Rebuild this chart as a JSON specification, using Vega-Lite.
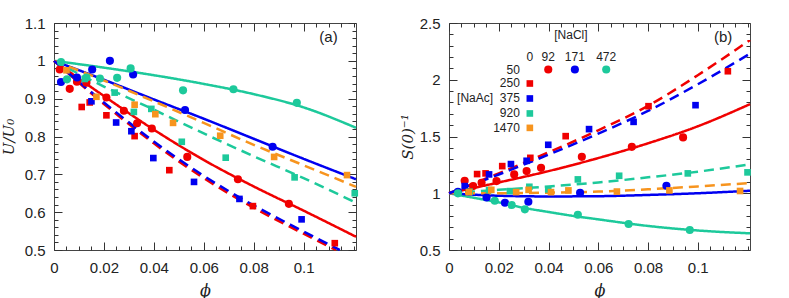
{
  "$schema": "https://vega.github.io/schema/vega-lite/v6.json",
  "autosize": {"type": "none"},
  "padding": {"left": 54, "top": 23, "right": 735, "bottom": 275},
  "config": {
    "view": {"stroke": "#444", "strokeWidth": 1},
    "axis": {"grid": false, "domain": false, "tickColor": "#333", "tickWidth": 1}
  },
  "datasets": {
    "d": [
      {"p":"a","k":"pt","s":"NaCl","c":"92","x":0.0023,"y":0.977},
      {"p":"a","k":"pt","s":"NaCl","c":"92","x":0.0063,"y":0.926},
      {"p":"a","k":"pt","s":"NaCl","c":"92","x":0.0092,"y":0.945},
      {"p":"a","k":"pt","s":"NaCl","c":"92","x":0.013,"y":0.942},
      {"p":"a","k":"pt","s":"NaCl","c":"92","x":0.021,"y":0.903},
      {"p":"a","k":"pt","s":"NaCl","c":"92","x":0.028,"y":0.868},
      {"p":"a","k":"pt","s":"NaCl","c":"92","x":0.0333,"y":0.835},
      {"p":"a","k":"pt","s":"NaCl","c":"92","x":0.0392,"y":0.821},
      {"p":"a","k":"pt","s":"NaCl","c":"92","x":0.0534,"y":0.746},
      {"p":"a","k":"pt","s":"NaCl","c":"92","x":0.0737,"y":0.687},
      {"p":"a","k":"pt","s":"NaCl","c":"92","x":0.0941,"y":0.622},
      {"p":"a","k":"pt","s":"NaCl","c":"171","x":0.0028,"y":0.944},
      {"p":"a","k":"pt","s":"NaCl","c":"171","x":0.0092,"y":0.956},
      {"p":"a","k":"pt","s":"NaCl","c":"171","x":0.0153,"y":0.977},
      {"p":"a","k":"pt","s":"NaCl","c":"171","x":0.0224,"y":1.0},
      {"p":"a","k":"pt","s":"NaCl","c":"171","x":0.0317,"y":0.964},
      {"p":"a","k":"pt","s":"NaCl","c":"171","x":0.0525,"y":0.87},
      {"p":"a","k":"pt","s":"NaCl","c":"171","x":0.0876,"y":0.773},
      {"p":"a","k":"pt","s":"NaCl","c":"472","x":0.0028,"y":0.997},
      {"p":"a","k":"pt","s":"NaCl","c":"472","x":0.0052,"y":0.951},
      {"p":"a","k":"pt","s":"NaCl","c":"472","x":0.013,"y":0.956},
      {"p":"a","k":"pt","s":"NaCl","c":"472","x":0.0184,"y":0.953},
      {"p":"a","k":"pt","s":"NaCl","c":"472","x":0.0253,"y":0.955},
      {"p":"a","k":"pt","s":"NaCl","c":"472","x":0.0307,"y":0.98},
      {"p":"a","k":"pt","s":"NaCl","c":"472","x":0.0517,"y":0.922},
      {"p":"a","k":"pt","s":"NaCl","c":"472","x":0.0719,"y":0.925},
      {"p":"a","k":"pt","s":"NaCl","c":"472","x":0.0973,"y":0.889},
      {"p":"a","k":"pt","s":"NaAc","c":"250","x":0.0111,"y":0.878},
      {"p":"a","k":"pt","s":"NaAc","c":"250","x":0.0143,"y":0.89},
      {"p":"a","k":"pt","s":"NaAc","c":"250","x":0.021,"y":0.856},
      {"p":"a","k":"pt","s":"NaAc","c":"250","x":0.0323,"y":0.801},
      {"p":"a","k":"pt","s":"NaAc","c":"250","x":0.0462,"y":0.711},
      {"p":"a","k":"pt","s":"NaAc","c":"250","x":0.0797,"y":0.616},
      {"p":"a","k":"pt","s":"NaAc","c":"250","x":0.1125,"y":0.518},
      {"p":"a","k":"pt","s":"NaAc","c":"375","x":0.015,"y":0.893},
      {"p":"a","k":"pt","s":"NaAc","c":"375","x":0.0249,"y":0.837},
      {"p":"a","k":"pt","s":"NaAc","c":"375","x":0.031,"y":0.814},
      {"p":"a","k":"pt","s":"NaAc","c":"375","x":0.0398,"y":0.743},
      {"p":"a","k":"pt","s":"NaAc","c":"375","x":0.0561,"y":0.68},
      {"p":"a","k":"pt","s":"NaAc","c":"375","x":0.0743,"y":0.635},
      {"p":"a","k":"pt","s":"NaAc","c":"375","x":0.0992,"y":0.581},
      {"p":"a","k":"pt","s":"NaAc","c":"920","x":0.0123,"y":0.952},
      {"p":"a","k":"pt","s":"NaAc","c":"920","x":0.0243,"y":0.916},
      {"p":"a","k":"pt","s":"NaAc","c":"920","x":0.032,"y":0.865},
      {"p":"a","k":"pt","s":"NaAc","c":"920","x":0.039,"y":0.873},
      {"p":"a","k":"pt","s":"NaAc","c":"920","x":0.0512,"y":0.786},
      {"p":"a","k":"pt","s":"NaAc","c":"920","x":0.0688,"y":0.744},
      {"p":"a","k":"pt","s":"NaAc","c":"920","x":0.0964,"y":0.692},
      {"p":"a","k":"pt","s":"NaAc","c":"920","x":0.1205,"y":0.65},
      {"p":"a","k":"pt","s":"NaAc","c":"1470","x":0.005,"y":0.975},
      {"p":"a","k":"pt","s":"NaAc","c":"1470","x":0.017,"y":0.905},
      {"p":"a","k":"pt","s":"NaAc","c":"1470","x":0.0323,"y":0.884},
      {"p":"a","k":"pt","s":"NaAc","c":"1470","x":0.0406,"y":0.859},
      {"p":"a","k":"pt","s":"NaAc","c":"1470","x":0.0477,"y":0.836},
      {"p":"a","k":"pt","s":"NaAc","c":"1470","x":0.0666,"y":0.802},
      {"p":"a","k":"pt","s":"NaAc","c":"1470","x":0.0882,"y":0.746},
      {"p":"a","k":"pt","s":"NaAc","c":"1470","x":0.1174,"y":0.698},

      {"p":"b","k":"pt","s":"NaCl","c":"92","x":0.0063,"y":1.11},
      {"p":"b","k":"pt","s":"NaCl","c":"92","x":0.0097,"y":1.063},
      {"p":"b","k":"pt","s":"NaCl","c":"92","x":0.0131,"y":1.092},
      {"p":"b","k":"pt","s":"NaCl","c":"92","x":0.0191,"y":1.107},
      {"p":"b","k":"pt","s":"NaCl","c":"92","x":0.0262,"y":1.166},
      {"p":"b","k":"pt","s":"NaCl","c":"92","x":0.0312,"y":1.195},
      {"p":"b","k":"pt","s":"NaCl","c":"92","x":0.037,"y":1.224},
      {"p":"b","k":"pt","s":"NaCl","c":"92","x":0.0534,"y":1.321},
      {"p":"b","k":"pt","s":"NaCl","c":"92","x":0.0735,"y":1.409},
      {"p":"b","k":"pt","s":"NaCl","c":"92","x":0.0941,"y":1.492},
      {"p":"b","k":"pt","s":"NaCl","c":"171","x":0.0036,"y":1.013},
      {"p":"b","k":"pt","s":"NaCl","c":"171","x":0.0151,"y":0.963},
      {"p":"b","k":"pt","s":"NaCl","c":"171","x":0.0225,"y":0.916},
      {"p":"b","k":"pt","s":"NaCl","c":"171","x":0.0319,"y":0.925},
      {"p":"b","k":"pt","s":"NaCl","c":"171","x":0.0527,"y":1.004},
      {"p":"b","k":"pt","s":"NaCl","c":"171","x":0.0874,"y":1.066},
      {"p":"b","k":"pt","s":"NaCl","c":"472","x":0.0036,"y":0.999},
      {"p":"b","k":"pt","s":"NaCl","c":"472","x":0.0184,"y":0.934},
      {"p":"b","k":"pt","s":"NaCl","c":"472","x":0.0252,"y":0.896},
      {"p":"b","k":"pt","s":"NaCl","c":"472","x":0.0305,"y":0.858},
      {"p":"b","k":"pt","s":"NaCl","c":"472","x":0.0518,"y":0.811},
      {"p":"b","k":"pt","s":"NaCl","c":"472","x":0.0722,"y":0.729},
      {"p":"b","k":"pt","s":"NaCl","c":"472","x":0.0968,"y":0.676},
      {"p":"b","k":"pt","s":"NaAc","c":"250","x":0.0113,"y":1.169},
      {"p":"b","k":"pt","s":"NaAc","c":"250","x":0.0147,"y":1.175},
      {"p":"b","k":"pt","s":"NaAc","c":"250","x":0.0214,"y":1.239},
      {"p":"b","k":"pt","s":"NaAc","c":"250","x":0.0327,"y":1.312},
      {"p":"b","k":"pt","s":"NaAc","c":"250","x":0.0469,"y":1.503},
      {"p":"b","k":"pt","s":"NaAc","c":"250","x":0.0802,"y":1.767},
      {"p":"b","k":"pt","s":"NaAc","c":"250","x":0.1121,"y":2.075},
      {"p":"b","k":"pt","s":"NaAc","c":"375","x":0.0063,"y":1.063},
      {"p":"b","k":"pt","s":"NaAc","c":"375","x":0.0161,"y":1.166},
      {"p":"b","k":"pt","s":"NaAc","c":"375","x":0.0249,"y":1.257},
      {"p":"b","k":"pt","s":"NaAc","c":"375","x":0.0312,"y":1.286},
      {"p":"b","k":"pt","s":"NaAc","c":"375","x":0.0399,"y":1.427},
      {"p":"b","k":"pt","s":"NaAc","c":"375","x":0.0563,"y":1.565},
      {"p":"b","k":"pt","s":"NaAc","c":"375","x":0.0742,"y":1.629},
      {"p":"b","k":"pt","s":"NaAc","c":"375","x":0.0991,"y":1.776},
      {"p":"b","k":"pt","s":"NaAc","c":"920","x":0.0083,"y":1.013},
      {"p":"b","k":"pt","s":"NaAc","c":"920","x":0.0161,"y":1.028},
      {"p":"b","k":"pt","s":"NaAc","c":"920","x":0.0245,"y":1.019},
      {"p":"b","k":"pt","s":"NaAc","c":"920","x":0.0323,"y":1.057},
      {"p":"b","k":"pt","s":"NaAc","c":"920","x":0.0399,"y":1.034},
      {"p":"b","k":"pt","s":"NaAc","c":"920","x":0.0518,"y":1.122},
      {"p":"b","k":"pt","s":"NaAc","c":"920","x":0.0684,"y":1.154},
      {"p":"b","k":"pt","s":"NaAc","c":"920","x":0.096,"y":1.175},
      {"p":"b","k":"pt","s":"NaAc","c":"920","x":0.12,"y":1.184},
      {"p":"b","k":"pt","s":"NaAc","c":"1470","x":0.008,"y":1.01},
      {"p":"b","k":"pt","s":"NaAc","c":"1470","x":0.017,"y":1.03},
      {"p":"b","k":"pt","s":"NaAc","c":"1470","x":0.027,"y":1.01},
      {"p":"b","k":"pt","s":"NaAc","c":"1470","x":0.032,"y":1.03},
      {"p":"b","k":"pt","s":"NaAc","c":"1470","x":0.041,"y":1.01},
      {"p":"b","k":"pt","s":"NaAc","c":"1470","x":0.048,"y":1.025},
      {"p":"b","k":"pt","s":"NaAc","c":"1470","x":0.0675,"y":1.015},
      {"p":"b","k":"pt","s":"NaAc","c":"1470","x":0.0886,"y":1.025},
      {"p":"b","k":"pt","s":"NaAc","c":"1470","x":0.117,"y":1.02},

      {"p":"a","k":"line","s":"NaCl","c":"472","x":0,"y":1},
      {"p":"a","k":"line","s":"NaCl","c":"472","x":0.02,"y":0.982},
      {"p":"a","k":"line","s":"NaCl","c":"472","x":0.04,"y":0.962},
      {"p":"a","k":"line","s":"NaCl","c":"472","x":0.06,"y":0.939},
      {"p":"a","k":"line","s":"NaCl","c":"472","x":0.08,"y":0.912},
      {"p":"a","k":"line","s":"NaCl","c":"472","x":0.1,"y":0.877},
      {"p":"a","k":"line","s":"NaCl","c":"472","x":0.121,"y":0.823},
      {"p":"a","k":"line","s":"NaCl","c":"171","x":0,"y":1},
      {"p":"a","k":"line","s":"NaCl","c":"171","x":0.02,"y":0.95},
      {"p":"a","k":"line","s":"NaCl","c":"171","x":0.04,"y":0.898},
      {"p":"a","k":"line","s":"NaCl","c":"171","x":0.06,"y":0.847},
      {"p":"a","k":"line","s":"NaCl","c":"171","x":0.08,"y":0.794},
      {"p":"a","k":"line","s":"NaCl","c":"171","x":0.1,"y":0.741},
      {"p":"a","k":"line","s":"NaCl","c":"171","x":0.121,"y":0.687},
      {"p":"a","k":"line","s":"NaCl","c":"92","x":0,"y":1},
      {"p":"a","k":"line","s":"NaCl","c":"92","x":0.01,"y":0.953},
      {"p":"a","k":"line","s":"NaCl","c":"92","x":0.02,"y":0.907},
      {"p":"a","k":"line","s":"NaCl","c":"92","x":0.04,"y":0.818},
      {"p":"a","k":"line","s":"NaCl","c":"92","x":0.06,"y":0.738},
      {"p":"a","k":"line","s":"NaCl","c":"92","x":0.08,"y":0.668},
      {"p":"a","k":"line","s":"NaCl","c":"92","x":0.1,"y":0.604},
      {"p":"a","k":"line","s":"NaCl","c":"92","x":0.121,"y":0.535},
      {"p":"a","k":"line","s":"NaAc","c":"920","x":0,"y":1},
      {"p":"a","k":"line","s":"NaAc","c":"920","x":0.02,"y":0.932},
      {"p":"a","k":"line","s":"NaAc","c":"920","x":0.04,"y":0.871},
      {"p":"a","k":"line","s":"NaAc","c":"920","x":0.06,"y":0.808},
      {"p":"a","k":"line","s":"NaAc","c":"920","x":0.08,"y":0.748},
      {"p":"a","k":"line","s":"NaAc","c":"920","x":0.1,"y":0.69},
      {"p":"a","k":"line","s":"NaAc","c":"920","x":0.121,"y":0.625},
      {"p":"a","k":"line","s":"NaAc","c":"1470","x":0,"y":1},
      {"p":"a","k":"line","s":"NaAc","c":"1470","x":0.02,"y":0.948},
      {"p":"a","k":"line","s":"NaAc","c":"1470","x":0.04,"y":0.893},
      {"p":"a","k":"line","s":"NaAc","c":"1470","x":0.06,"y":0.836},
      {"p":"a","k":"line","s":"NaAc","c":"1470","x":0.08,"y":0.778},
      {"p":"a","k":"line","s":"NaAc","c":"1470","x":0.1,"y":0.724},
      {"p":"a","k":"line","s":"NaAc","c":"1470","x":0.121,"y":0.667},
      {"p":"a","k":"line","s":"NaAc","c":"250","x":0,"y":1},
      {"p":"a","k":"line","s":"NaAc","c":"250","x":0.02,"y":0.886},
      {"p":"a","k":"line","s":"NaAc","c":"250","x":0.04,"y":0.782},
      {"p":"a","k":"line","s":"NaAc","c":"250","x":0.06,"y":0.69},
      {"p":"a","k":"line","s":"NaAc","c":"250","x":0.08,"y":0.612},
      {"p":"a","k":"line","s":"NaAc","c":"250","x":0.1,"y":0.543},
      {"p":"a","k":"line","s":"NaAc","c":"250","x":0.113,"y":0.5},
      {"p":"a","k":"line","s":"NaAc","c":"375","x":0,"y":1},
      {"p":"a","k":"line","s":"NaAc","c":"375","x":0.02,"y":0.89},
      {"p":"a","k":"line","s":"NaAc","c":"375","x":0.04,"y":0.787},
      {"p":"a","k":"line","s":"NaAc","c":"375","x":0.06,"y":0.696},
      {"p":"a","k":"line","s":"NaAc","c":"375","x":0.08,"y":0.618},
      {"p":"a","k":"line","s":"NaAc","c":"375","x":0.1,"y":0.549},
      {"p":"a","k":"line","s":"NaAc","c":"375","x":0.1145,"y":0.5},

      {"p":"b","k":"line","s":"NaCl","c":"472","x":0,"y":1},
      {"p":"b","k":"line","s":"NaCl","c":"472","x":0.01,"y":0.96},
      {"p":"b","k":"line","s":"NaCl","c":"472","x":0.02,"y":0.92},
      {"p":"b","k":"line","s":"NaCl","c":"472","x":0.03,"y":0.872},
      {"p":"b","k":"line","s":"NaCl","c":"472","x":0.04,"y":0.835},
      {"p":"b","k":"line","s":"NaCl","c":"472","x":0.05,"y":0.8},
      {"p":"b","k":"line","s":"NaCl","c":"472","x":0.06,"y":0.77},
      {"p":"b","k":"line","s":"NaCl","c":"472","x":0.08,"y":0.712},
      {"p":"b","k":"line","s":"NaCl","c":"472","x":0.1,"y":0.672},
      {"p":"b","k":"line","s":"NaCl","c":"472","x":0.121,"y":0.647},
      {"p":"b","k":"line","s":"NaCl","c":"171","x":0,"y":1},
      {"p":"b","k":"line","s":"NaCl","c":"171","x":0.02,"y":0.978},
      {"p":"b","k":"line","s":"NaCl","c":"171","x":0.04,"y":0.972},
      {"p":"b","k":"line","s":"NaCl","c":"171","x":0.06,"y":0.974},
      {"p":"b","k":"line","s":"NaCl","c":"171","x":0.08,"y":0.985},
      {"p":"b","k":"line","s":"NaCl","c":"171","x":0.1,"y":1.0},
      {"p":"b","k":"line","s":"NaCl","c":"171","x":0.121,"y":1.022},
      {"p":"b","k":"line","s":"NaCl","c":"92","x":0,"y":1},
      {"p":"b","k":"line","s":"NaCl","c":"92","x":0.02,"y":1.095},
      {"p":"b","k":"line","s":"NaCl","c":"92","x":0.04,"y":1.195},
      {"p":"b","k":"line","s":"NaCl","c":"92","x":0.06,"y":1.31},
      {"p":"b","k":"line","s":"NaCl","c":"92","x":0.08,"y":1.44},
      {"p":"b","k":"line","s":"NaCl","c":"92","x":0.1,"y":1.59},
      {"p":"b","k":"line","s":"NaCl","c":"92","x":0.121,"y":1.785},
      {"p":"b","k":"line","s":"NaAc","c":"920","x":0,"y":1},
      {"p":"b","k":"line","s":"NaAc","c":"920","x":0.02,"y":1.03},
      {"p":"b","k":"line","s":"NaAc","c":"920","x":0.04,"y":1.06},
      {"p":"b","k":"line","s":"NaAc","c":"920","x":0.06,"y":1.095},
      {"p":"b","k":"line","s":"NaAc","c":"920","x":0.08,"y":1.14},
      {"p":"b","k":"line","s":"NaAc","c":"920","x":0.1,"y":1.19},
      {"p":"b","k":"line","s":"NaAc","c":"920","x":0.121,"y":1.255},
      {"p":"b","k":"line","s":"NaAc","c":"1470","x":0,"y":1},
      {"p":"b","k":"line","s":"NaAc","c":"1470","x":0.02,"y":1.0},
      {"p":"b","k":"line","s":"NaAc","c":"1470","x":0.04,"y":1.005},
      {"p":"b","k":"line","s":"NaAc","c":"1470","x":0.06,"y":1.015},
      {"p":"b","k":"line","s":"NaAc","c":"1470","x":0.08,"y":1.035},
      {"p":"b","k":"line","s":"NaAc","c":"1470","x":0.1,"y":1.06},
      {"p":"b","k":"line","s":"NaAc","c":"1470","x":0.121,"y":1.09},
      {"p":"b","k":"line","s":"NaAc","c":"250","x":0,"y":1},
      {"p":"b","k":"line","s":"NaAc","c":"250","x":0.02,"y":1.175},
      {"p":"b","k":"line","s":"NaAc","c":"250","x":0.04,"y":1.36},
      {"p":"b","k":"line","s":"NaAc","c":"250","x":0.06,"y":1.555},
      {"p":"b","k":"line","s":"NaAc","c":"250","x":0.08,"y":1.77},
      {"p":"b","k":"line","s":"NaAc","c":"250","x":0.1,"y":2.04},
      {"p":"b","k":"line","s":"NaAc","c":"250","x":0.121,"y":2.35},
      {"p":"b","k":"line","s":"NaAc","c":"375","x":0,"y":1},
      {"p":"b","k":"line","s":"NaAc","c":"375","x":0.02,"y":1.165},
      {"p":"b","k":"line","s":"NaAc","c":"375","x":0.04,"y":1.34},
      {"p":"b","k":"line","s":"NaAc","c":"375","x":0.06,"y":1.525},
      {"p":"b","k":"line","s":"NaAc","c":"375","x":0.08,"y":1.725},
      {"p":"b","k":"line","s":"NaAc","c":"375","x":0.1,"y":1.96},
      {"p":"b","k":"line","s":"NaAc","c":"375","x":0.121,"y":2.23},

      {"p":"b","k":"legpt","s":"NaCl","c":"92","x":0.0399,"y":2.09},
      {"p":"b","k":"legpt","s":"NaCl","c":"171","x":0.0506,"y":2.09},
      {"p":"b","k":"legpt","s":"NaCl","c":"472","x":0.0632,"y":2.09},
      {"p":"b","k":"legpt","s":"NaAc","c":"250","x":0.0325,"y":1.967},
      {"p":"b","k":"legpt","s":"NaAc","c":"375","x":0.0325,"y":1.835},
      {"p":"b","k":"legpt","s":"NaAc","c":"920","x":0.0325,"y":1.703},
      {"p":"b","k":"legpt","s":"NaAc","c":"1470","x":0.0325,"y":1.576},

      {"p":"a","k":"note","t":"(a)","x":0.11,"y":1.063},
      {"p":"b","k":"note","t":"(b)","x":0.1102,"y":2.377},
      {"p":"b","k":"head","t":"[NaCl]","x":0.049,"y":2.392},
      {"p":"b","k":"head","t":"0","x":0.0325,"y":2.201},
      {"p":"b","k":"head","t":"92","x":0.0399,"y":2.201},
      {"p":"b","k":"head","t":"171","x":0.0506,"y":2.201},
      {"p":"b","k":"head","t":"472","x":0.0632,"y":2.201},
      {"p":"b","k":"head","t":"[NaAc]","x":0.0105,"y":1.835},
      {"p":"b","k":"row","t":"50","x":0.0285,"y":2.09},
      {"p":"b","k":"row","t":"250","x":0.0285,"y":1.967},
      {"p":"b","k":"row","t":"375","x":0.0285,"y":1.835},
      {"p":"b","k":"row","t":"920","x":0.0285,"y":1.703},
      {"p":"b","k":"row","t":"1470","x":0.0285,"y":1.576}
    ]
  },
  "hconcat": [
    {
      "width": 302,
      "height": 227,
      "data": {"name": "d"},
      "transform": [{"filter": "datum.p == 'a'"}],
      "resolve": {"axis": {"x": "independent", "y": "independent"}},
      "layer": [
        {
          "transform": [{"filter": "datum.k == 'line'"}],
          "mark": {"type": "line", "strokeWidth": 2.5, "interpolate": "monotone"},
          "encoding": {
            "x": {"field": "x", "type": "quantitative", "scale": {"domain": [0, 0.121], "nice": false, "zero": false},
              "axis": {"orient": "bottom", "values": [0,0.005,0.01,0.015,0.02,0.025,0.03,0.035,0.04,0.045,0.05,0.055,0.06,0.065,0.07,0.075,0.08,0.085,0.09,0.095,0.1,0.105,0.11,0.115,0.12],
                "tickSize": {"condition": {"test": "abs(datum.value*50-round(datum.value*50))<0.01 && datum.value<0.11", "value": -8}, "value": -4},
                "labelExpr": "abs(datum.value*50-round(datum.value*50))<0.01 && datum.value<0.11 ? format(datum.value,'~g') : ''",
                "labelFont": "Liberation Sans", "labelFontSize": 15, "labelColor": "#222", "labelPadding": 18, "labelFlush": false, "labelOverlap": false,
                "title": "ϕ", "titleFont": "DejaVu Serif", "titleFontStyle": "italic", "titleFontWeight": "normal", "titleFontSize": 16, "titleColor": "#222", "titlePadding": 3}},
            "y": {"field": "y", "type": "quantitative", "scale": {"domain": [0.5, 1.1], "nice": false, "zero": false},
              "axis": {"orient": "left", "values": [0.5,0.52,0.54,0.56,0.58,0.6,0.62,0.64,0.66,0.68,0.7,0.72,0.74,0.76,0.78,0.8,0.82,0.84,0.86,0.88,0.9,0.92,0.94,0.96,0.98,1,1.02,1.04,1.06,1.08,1.1],
                "tickSize": {"condition": {"test": "abs(datum.value*10-round(datum.value*10))<0.01", "value": -8}, "value": -4},
                "labelExpr": "abs(datum.value*10-round(datum.value*10))<0.01 ? format(datum.value,'~g') : ''",
                "labelFont": "Liberation Sans", "labelFontSize": 15, "labelColor": "#222", "labelPadding": 17, "labelFlush": false, "labelOverlap": false,
                "title": "U/U₀", "titleFont": "DejaVu Serif", "titleFontStyle": "italic", "titleFontWeight": "normal", "titleFontSize": 15, "titleColor": "#222", "titlePadding": 8}},
            "color": {"field": "c", "type": "nominal", "legend": null, "scale": {"domain": ["92","171","472","250","375","920","1470"], "range": ["#f00000","#0000f0","#1dc99b","#f00000","#0000f0","#1dc99b","#f7941e"]}},
            "strokeDash": {"field": "s", "type": "nominal", "legend": null, "scale": {"domain": ["NaCl","NaAc"], "range": [[1,0],[10,6]]}},
            "detail": {"field": "c"}
          }
        },
        {
          "transform": [{"filter": "datum.k == 'pt'"}],
          "mark": {"type": "point", "filled": true, "opacity": 1, "strokeWidth": 0},
          "encoding": {
            "x": {"field": "x", "type": "quantitative", "scale": {"domain": [0, 0.121], "nice": false, "zero": false},
              "axis": {"orient": "top", "values": [0,0.005,0.01,0.015,0.02,0.025,0.03,0.035,0.04,0.045,0.05,0.055,0.06,0.065,0.07,0.075,0.08,0.085,0.09,0.095,0.1,0.105,0.11,0.115,0.12],
                "tickSize": {"condition": {"test": "abs(datum.value*50-round(datum.value*50))<0.01 && datum.value<0.11", "value": -8}, "value": -4},
                "labels": false, "title": null}},
            "y": {"field": "y", "type": "quantitative", "scale": {"domain": [0.5, 1.1], "nice": false, "zero": false},
              "axis": {"orient": "right", "values": [0.5,0.52,0.54,0.56,0.58,0.6,0.62,0.64,0.66,0.68,0.7,0.72,0.74,0.76,0.78,0.8,0.82,0.84,0.86,0.88,0.9,0.92,0.94,0.96,0.98,1,1.02,1.04,1.06,1.08,1.1],
                "tickSize": {"condition": {"test": "abs(datum.value*10-round(datum.value*10))<0.01", "value": -8}, "value": -4},
                "labels": false, "title": null}},
            "color": {"field": "c", "type": "nominal", "legend": null, "scale": {"domain": ["92","171","472","250","375","920","1470"], "range": ["#f00000","#0000f0","#1dc99b","#f00000","#0000f0","#1dc99b","#f7941e"]}},
            "shape": {"field": "s", "type": "nominal", "legend": null, "scale": {"domain": ["NaCl","NaAc"], "range": ["circle","square"]}},
            "size": {"field": "s", "type": "nominal", "legend": null, "scale": {"domain": ["NaCl","NaAc"], "range": [66, 44]}}
          }
        },
        {
          "transform": [{"filter": "datum.k == 'note'"}],
          "mark": {"type": "text", "font": "Liberation Sans", "fontSize": 15, "color": "#222", "align": "center", "baseline": "middle"},
          "encoding": {
            "x": {"field": "x", "type": "quantitative", "axis": null, "scale": {"domain": [0, 0.121], "nice": false, "zero": false}},
            "y": {"field": "y", "type": "quantitative", "axis": null, "scale": {"domain": [0.5, 1.1], "nice": false, "zero": false}},
            "text": {"field": "t"}
          }
        }
      ]
    },
    {
      "width": 301,
      "height": 227,
      "data": {"name": "d"},
      "transform": [{"filter": "datum.p == 'b'"}],
      "resolve": {"axis": {"x": "independent", "y": "independent"}},
      "layer": [
        {
          "transform": [{"filter": "datum.k == 'line'"}],
          "mark": {"type": "line", "strokeWidth": 2.5, "interpolate": "monotone"},
          "encoding": {
            "x": {"field": "x", "type": "quantitative", "scale": {"domain": [0, 0.121], "nice": false, "zero": false},
              "axis": {"orient": "bottom", "values": [0,0.005,0.01,0.015,0.02,0.025,0.03,0.035,0.04,0.045,0.05,0.055,0.06,0.065,0.07,0.075,0.08,0.085,0.09,0.095,0.1,0.105,0.11,0.115,0.12],
                "tickSize": {"condition": {"test": "abs(datum.value*50-round(datum.value*50))<0.01 && datum.value<0.11", "value": -8}, "value": -4},
                "labelExpr": "abs(datum.value*50-round(datum.value*50))<0.01 && datum.value<0.11 ? format(datum.value,'~g') : ''",
                "labelFont": "Liberation Sans", "labelFontSize": 15, "labelColor": "#222", "labelPadding": 18, "labelFlush": false, "labelOverlap": false,
                "title": "ϕ", "titleFont": "DejaVu Serif", "titleFontStyle": "italic", "titleFontWeight": "normal", "titleFontSize": 16, "titleColor": "#222", "titlePadding": 3}},
            "y": {"field": "y", "type": "quantitative", "scale": {"domain": [0.5, 2.5], "nice": false, "zero": false},
              "axis": {"orient": "left", "values": [0.5,0.6,0.7,0.8,0.9,1,1.1,1.2,1.3,1.4,1.5,1.6,1.7,1.8,1.9,2,2.1,2.2,2.3,2.4,2.5],
                "tickSize": {"condition": {"test": "abs(datum.value*2-round(datum.value*2))<0.01", "value": -8}, "value": -4},
                "labelExpr": "abs(datum.value*2-round(datum.value*2))<0.01 ? format(datum.value,'~g') : ''",
                "labelFont": "Liberation Sans", "labelFontSize": 15, "labelColor": "#222", "labelPadding": 17, "labelFlush": false, "labelOverlap": false,
                "title": "S(0)⁻¹", "titleFont": "DejaVu Serif", "titleFontStyle": "italic", "titleFontWeight": "normal", "titleFontSize": 15, "titleColor": "#222", "titlePadding": 4}},
            "color": {"field": "c", "type": "nominal", "legend": null, "scale": {"domain": ["92","171","472","250","375","920","1470"], "range": ["#f00000","#0000f0","#1dc99b","#f00000","#0000f0","#1dc99b","#f7941e"]}},
            "strokeDash": {"field": "s", "type": "nominal", "legend": null, "scale": {"domain": ["NaCl","NaAc"], "range": [[1,0],[10,6]]}},
            "detail": {"field": "c"}
          }
        },
        {
          "transform": [{"filter": "datum.k == 'pt' || datum.k == 'legpt'"}],
          "mark": {"type": "point", "filled": true, "opacity": 1, "strokeWidth": 0},
          "encoding": {
            "x": {"field": "x", "type": "quantitative", "scale": {"domain": [0, 0.121], "nice": false, "zero": false},
              "axis": {"orient": "top", "values": [0,0.005,0.01,0.015,0.02,0.025,0.03,0.035,0.04,0.045,0.05,0.055,0.06,0.065,0.07,0.075,0.08,0.085,0.09,0.095,0.1,0.105,0.11,0.115,0.12],
                "tickSize": {"condition": {"test": "abs(datum.value*50-round(datum.value*50))<0.01 && datum.value<0.11", "value": -8}, "value": -4},
                "labels": false, "title": null}},
            "y": {"field": "y", "type": "quantitative", "scale": {"domain": [0.5, 2.5], "nice": false, "zero": false},
              "axis": {"orient": "right", "values": [0.5,0.6,0.7,0.8,0.9,1,1.1,1.2,1.3,1.4,1.5,1.6,1.7,1.8,1.9,2,2.1,2.2,2.3,2.4,2.5],
                "tickSize": {"condition": {"test": "abs(datum.value*2-round(datum.value*2))<0.01", "value": -8}, "value": -4},
                "labels": false, "title": null}},
            "color": {"field": "c", "type": "nominal", "legend": null, "scale": {"domain": ["92","171","472","250","375","920","1470"], "range": ["#f00000","#0000f0","#1dc99b","#f00000","#0000f0","#1dc99b","#f7941e"]}},
            "shape": {"field": "s", "type": "nominal", "legend": null, "scale": {"domain": ["NaCl","NaAc"], "range": ["circle","square"]}},
            "size": {"field": "s", "type": "nominal", "legend": null, "scale": {"domain": ["NaCl","NaAc"], "range": [66, 44]}}
          }
        },
        {
          "transform": [{"filter": "datum.k == 'note'"}],
          "mark": {"type": "text", "font": "Liberation Sans", "fontSize": 15, "color": "#222", "align": "center", "baseline": "middle"},
          "encoding": {
            "x": {"field": "x", "type": "quantitative", "axis": null, "scale": {"domain": [0, 0.121], "nice": false, "zero": false}},
            "y": {"field": "y", "type": "quantitative", "axis": null, "scale": {"domain": [0.5, 2.5], "nice": false, "zero": false}},
            "text": {"field": "t"}
          }
        },
        {
          "transform": [{"filter": "datum.k == 'head'"}],
          "mark": {"type": "text", "font": "Liberation Sans", "fontSize": 12, "color": "#222", "align": "center", "baseline": "middle"},
          "encoding": {
            "x": {"field": "x", "type": "quantitative", "axis": null, "scale": {"domain": [0, 0.121], "nice": false, "zero": false}},
            "y": {"field": "y", "type": "quantitative", "axis": null, "scale": {"domain": [0.5, 2.5], "nice": false, "zero": false}},
            "text": {"field": "t"}
          }
        },
        {
          "transform": [{"filter": "datum.k == 'row'"}],
          "mark": {"type": "text", "font": "Liberation Sans", "fontSize": 12, "color": "#222", "align": "right", "baseline": "middle"},
          "encoding": {
            "x": {"field": "x", "type": "quantitative", "axis": null, "scale": {"domain": [0, 0.121], "nice": false, "zero": false}},
            "y": {"field": "y", "type": "quantitative", "axis": null, "scale": {"domain": [0.5, 2.5], "nice": false, "zero": false}},
            "text": {"field": "t"}
          }
        }
      ]
    }
  ],
  "spacing": 93,
  "bounds": "flush"
}
